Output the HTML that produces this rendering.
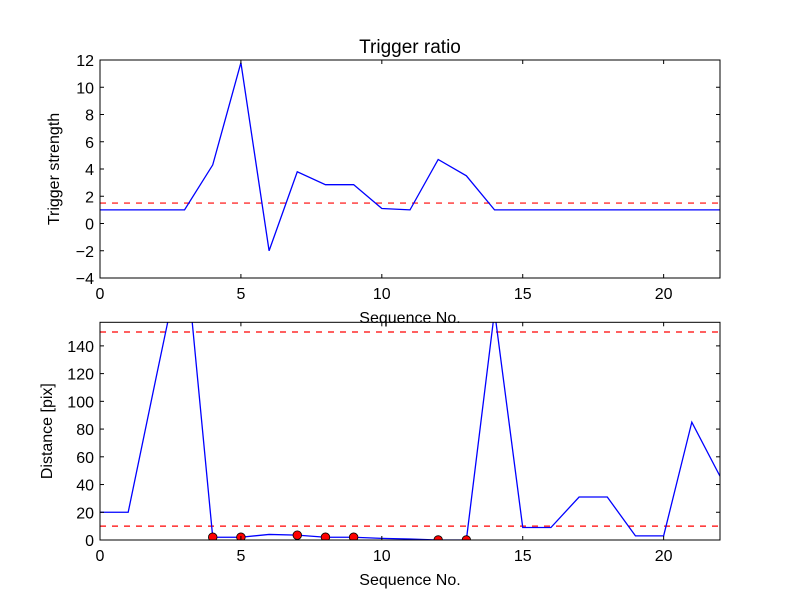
<!DOCTYPE html>
<html><head><meta charset="utf-8"><style>
body{margin:0;background:#fff;width:800px;height:600px;overflow:hidden}
svg{font-family:"Liberation Sans","DejaVu Sans",sans-serif}
</style></head><body>
<svg id="c" width="800" height="600" xmlns="http://www.w3.org/2000/svg"></svg>
<script>
const seq = [0,1,2,3,4,5,6,7,8,9,10,11,12,13,14,15,16,17,18,19,20,21,22];
const strength = [1,1,1,1,4.3,11.8,-2,3.8,2.85,2.85,1.1,1,4.7,3.5,1,1,1,1,1,1,1,1,1];
const distance = [20,20,118,215,2,2,4,3.5,2,2,1.2,0.7,0,0,165,9,9,31,31,3,3,85,46];
const flaggedIdx = [4,5,7,8,9,12,13];
const strengthThreshold = [1.5];
const distanceThresholds = [150,10];
const topYTicks = [-4,-2,0,2,4,6,8,10,12];
const botYTicks = [0,20,40,60,80,100,120,140];
const xTicks = [0,5,10,15,20];

const NS="http://www.w3.org/2000/svg";
const svg=document.getElementById('c');
function mk(tag,attrs,parent){const e=document.createElementNS(NS,tag);for(const k in attrs)e.setAttribute(k,attrs[k]);(parent||svg).appendChild(e);return e;}

function panel(name,top,bottom,ymin,ymax,yTicks,series,thresholds,markers,title,ylabel,ylabOff){
  const L=100,R=720;
  const sx=v=>L+(v-0)/(22-0)*(R-L);
  const sy=v=>bottom-(v-ymin)/(ymax-ymin)*(bottom-top);
  const g=mk('g',{});
  
  
  const cp=mk('clipPath',{id:name+'-clip'},g);
  mk('rect',{x:L,y:top,width:R-L,height:bottom-top},cp);
  const pg=mk('g',{'clip-path':'url(#'+name+'-clip)'},g);
  thresholds.forEach(t=>{
    const l=mk('line',{x1:L,x2:R,y1:sy(t),y2:sy(t),stroke:'#ff0000','stroke-width':1.2,'stroke-dasharray':'6,6'},pg);
    
    
  });
  const pts=seq.map((x,i)=>sx(x).toFixed(2)+','+sy(series[i]).toFixed(2)).join(' ');
  const pl=mk('polyline',{points:pts,fill:'none',stroke:'#0000ff','stroke-width':1.3},pg);
  
  
  markers.forEach(i=>{
    const c=mk('circle',{cx:sx(seq[i]),cy:sy(series[i]),r:4.3,fill:'#ff0000',stroke:'#000','stroke-width':0.8},pg);
    
    
  });
  const fr=mk('rect',{x:L,y:top,width:R-L,height:bottom-top,fill:'none',stroke:'#000','stroke-width':1},g);
  
  
  xTicks.forEach(t=>{
    const x=sx(t);
    mk('line',{x1:x,x2:x,y1:bottom,y2:bottom-4,stroke:'#000'},g);
    mk('line',{x1:x,x2:x,y1:top,y2:top+4,stroke:'#000'},g);
    const tx=mk('text',{x:x,y:bottom+21,'text-anchor':'middle','font-size':16},g);
    tx.textContent=t;
    
    
  });
  yTicks.forEach(t=>{
    const y=sy(t);
    mk('line',{x1:L,x2:L+4,y1:y,y2:y,stroke:'#000'},g);
    mk('line',{x1:R,x2:R-4,y1:y,y2:y,stroke:'#000'},g);
    const tx=mk('text',{x:L-6,y:y+6,'text-anchor':'end','font-size':16},g);
    tx.textContent=(t<0?'\u2212'+(-t):t);
    
    
  });
  const xl=mk('text',{x:(L+R)/2,y:bottom+45,'text-anchor':'middle','font-size':16},g);
  xl.textContent='Sequence No.';
  
  
  const yl=mk('text',{x:0,y:0,'text-anchor':'middle','font-size':16,transform:'translate('+(L-ylabOff)+','+((top+bottom)/2)+') rotate(-90)'},g);
  yl.textContent=ylabel;
  
  
  if(title){
    const tt=mk('text',{x:(L+R)/2,y:top-7,'text-anchor':'middle','font-size':19},g);
    tt.textContent=title;
    
    
  }
}
panel('trigger-panel',60,278,-4,12,topYTicks,strength,strengthThreshold,[],'Trigger ratio','Trigger strength',41);
panel('distance-panel',322.3,540,0,157,botYTicks,distance,distanceThresholds,flaggedIdx,null,'Distance [pix]',48);
</script>
</body></html>
